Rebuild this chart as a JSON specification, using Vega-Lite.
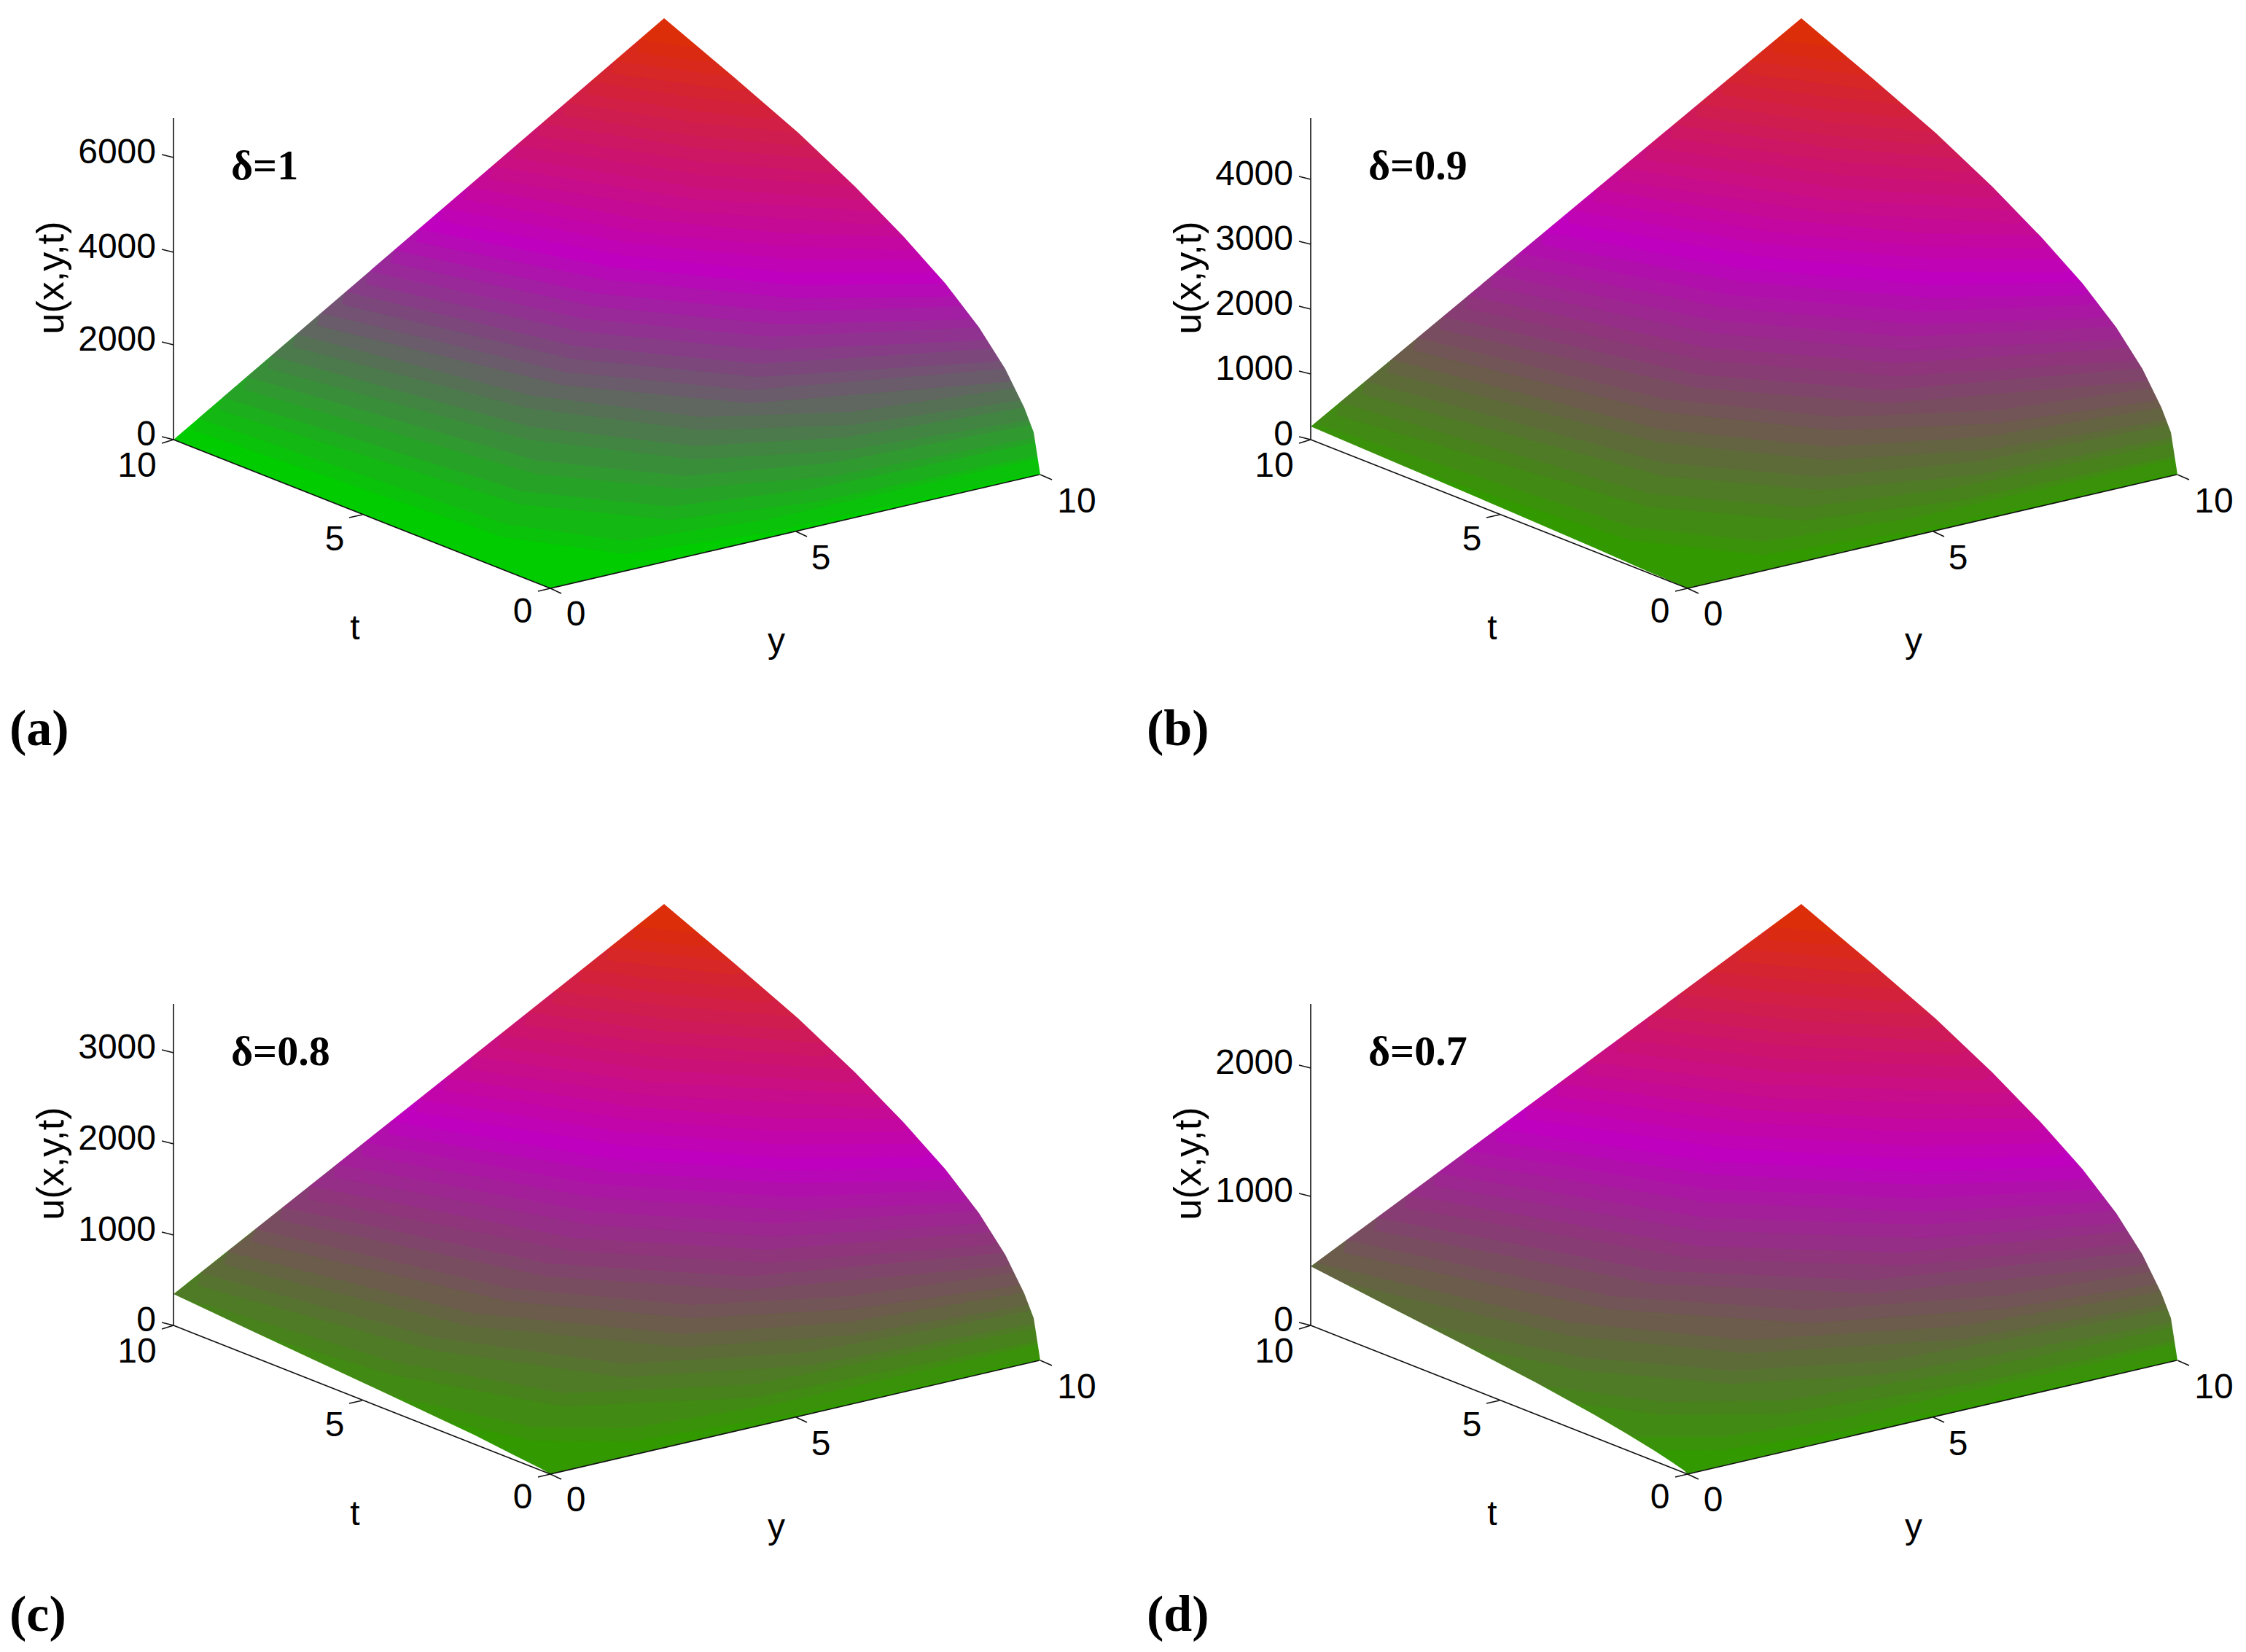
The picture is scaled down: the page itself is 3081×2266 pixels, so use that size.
{
"$schema":"https://vega.github.io/schema/vega-lite/v6.json",
"description":"Surface plots of u(x,y,t) for four values of delta, projected to the page",
"background":"white","padding":0,"bounds":"flush",
"datasets":{
"mask":[{"x":1427,"y":650},{"x":1418,"y":592},{"x":1405,"y":558},{"x":1379,"y":505},{"x":1343,"y":448},{"x":1297,"y":388},{"x":1240,"y":324},{"x":1173,"y":255},{"x":1095,"y":181},{"x":1007,"y":105},{"x":911,"y":24},{"x":911,"y":0},{"x":1545,"y":0},{"x":1545,"y":650}],
"axes":[{"x":238,"y":602,"x2":238,"y2":161},{"x":238,"y":602,"x2":755,"y2":806},{"x":755,"y":806,"x2":1426,"y2":650},{"x":238,"y":602,"x2":222,"y2":607},{"x":497,"y":705,"x2":479,"y2":709},{"x":755,"y":806,"x2":738,"y2":810},{"x":755,"y":806,"x2":770,"y2":813},{"x":1092,"y":728,"x2":1107,"y2":735},{"x":1427,"y":650,"x2":1443,"y2":657}],
"ticktext":[{"x":188,"y":639,"t":"10"},{"x":459,"y":740,"t":"5"},{"x":717,"y":839,"t":"0"},{"x":790,"y":843,"t":"0"},{"x":1126,"y":766,"t":"5"},{"x":1477,"y":688,"t":"10"},{"x":487,"y":862,"t":"t"},{"x":1065,"y":880,"t":"y"}],
"ztitle":[{"x":71,"y":380,"t":"u(x,y,t)"}],
"panels":[
{"p":"a","c":0,"x":238,"y":602},{"p":"a","c":0,"x":755,"y":806},{"p":"a","c":0,"x":1426,"y":650},{"p":"a","c":0,"x":1521,"y":650},{"p":"a","c":0,"x":1521,"y":24},{"p":"a","c":0,"x":911,"y":24},
{"p":"a","c":0.05,"x":272,"y":573},{"p":"a","c":0.05,"x":693,"y":718},{"p":"a","c":0.05,"x":857,"y":741},{"p":"a","c":0.05,"x":1051,"y":712},{"p":"a","c":0.05,"x":1425,"y":628},{"p":"a","c":0.05,"x":1521,"y":24},{"p":"a","c":0.05,"x":911,"y":24},
{"p":"a","c":0.1,"x":305,"y":544},{"p":"a","c":0.1,"x":716,"y":673},{"p":"a","c":0.1,"x":919,"y":694},{"p":"a","c":0.1,"x":1114,"y":670},{"p":"a","c":0.1,"x":1421,"y":606},{"p":"a","c":0.1,"x":1521,"y":24},{"p":"a","c":0.1,"x":911,"y":24},
{"p":"a","c":0.15,"x":339,"y":516},{"p":"a","c":0.15,"x":737,"y":631},{"p":"a","c":0.15,"x":940,"y":652},{"p":"a","c":0.15,"x":1141,"y":634},{"p":"a","c":0.15,"x":1414,"y":582},{"p":"a","c":0.15,"x":1521,"y":24},{"p":"a","c":0.15,"x":911,"y":24},
{"p":"a","c":0.2,"x":372,"y":487},{"p":"a","c":0.2,"x":726,"y":584},{"p":"a","c":0.2,"x":954,"y":611},{"p":"a","c":0.2,"x":1159,"y":599},{"p":"a","c":0.2,"x":1405,"y":558},{"p":"a","c":0.2,"x":1521,"y":24},{"p":"a","c":0.2,"x":911,"y":24},
{"p":"a","c":0.25,"x":406,"y":457},{"p":"a","c":0.25,"x":726,"y":541},{"p":"a","c":0.25,"x":962,"y":571},{"p":"a","c":0.25,"x":1167,"y":564},{"p":"a","c":0.25,"x":1394,"y":531},{"p":"a","c":0.25,"x":1521,"y":24},{"p":"a","c":0.25,"x":911,"y":24},
{"p":"a","c":0.3,"x":439,"y":428},{"p":"a","c":0.3,"x":773,"y":509},{"p":"a","c":0.3,"x":1029,"y":534},{"p":"a","c":0.3,"x":1379,"y":505},{"p":"a","c":0.3,"x":1521,"y":24},{"p":"a","c":0.3,"x":911,"y":24},
{"p":"a","c":0.35,"x":473,"y":399},{"p":"a","c":0.35,"x":786,"y":473},{"p":"a","c":0.35,"x":1041,"y":498},{"p":"a","c":0.35,"x":1363,"y":477},{"p":"a","c":0.35,"x":1521,"y":24},{"p":"a","c":0.35,"x":911,"y":24},
{"p":"a","c":0.4,"x":506,"y":371},{"p":"a","c":0.4,"x":799,"y":436},{"p":"a","c":0.4,"x":1056,"y":461},{"p":"a","c":0.4,"x":1343,"y":448},{"p":"a","c":0.4,"x":1521,"y":24},{"p":"a","c":0.4,"x":911,"y":24},
{"p":"a","c":0.45,"x":540,"y":342},{"p":"a","c":0.45,"x":816,"y":401},{"p":"a","c":0.45,"x":1072,"y":426},{"p":"a","c":0.45,"x":1321,"y":419},{"p":"a","c":0.45,"x":1521,"y":24},{"p":"a","c":0.45,"x":911,"y":24},
{"p":"a","c":0.5,"x":574,"y":313},{"p":"a","c":0.5,"x":835,"y":365},{"p":"a","c":0.5,"x":1090,"y":390},{"p":"a","c":0.5,"x":1297,"y":388},{"p":"a","c":0.5,"x":1521,"y":24},{"p":"a","c":0.5,"x":911,"y":24},
{"p":"a","c":0.55,"x":607,"y":284},{"p":"a","c":0.55,"x":859,"y":332},{"p":"a","c":0.55,"x":1085,"y":355},{"p":"a","c":0.55,"x":1270,"y":356},{"p":"a","c":0.55,"x":1521,"y":24},{"p":"a","c":0.55,"x":911,"y":24},
{"p":"a","c":0.6,"x":641,"y":255},{"p":"a","c":0.6,"x":881,"y":300},{"p":"a","c":0.6,"x":1079,"y":319},{"p":"a","c":0.6,"x":1240,"y":324},{"p":"a","c":0.6,"x":1521,"y":24},{"p":"a","c":0.6,"x":911,"y":24},
{"p":"a","c":0.65,"x":674,"y":227},{"p":"a","c":0.65,"x":951,"y":272},{"p":"a","c":0.65,"x":1208,"y":290},{"p":"a","c":0.65,"x":1521,"y":24},{"p":"a","c":0.65,"x":911,"y":24},
{"p":"a","c":0.7,"x":708,"y":198},{"p":"a","c":0.7,"x":962,"y":239},{"p":"a","c":0.7,"x":1173,"y":255},{"p":"a","c":0.7,"x":1521,"y":24},{"p":"a","c":0.7,"x":911,"y":24},
{"p":"a","c":0.75,"x":741,"y":168},{"p":"a","c":0.75,"x":956,"y":202},{"p":"a","c":0.75,"x":1135,"y":218},{"p":"a","c":0.75,"x":1521,"y":24},{"p":"a","c":0.75,"x":911,"y":24},
{"p":"a","c":0.8,"x":775,"y":139},{"p":"a","c":0.8,"x":951,"y":167},{"p":"a","c":0.8,"x":1095,"y":181},{"p":"a","c":0.8,"x":1521,"y":24},{"p":"a","c":0.8,"x":911,"y":24},
{"p":"a","c":0.85,"x":808,"y":110},{"p":"a","c":0.85,"x":947,"y":132},{"p":"a","c":0.85,"x":1052,"y":144},{"p":"a","c":0.85,"x":1521,"y":24},{"p":"a","c":0.85,"x":911,"y":24},
{"p":"a","c":0.9,"x":842,"y":82},{"p":"a","c":0.9,"x":1007,"y":105},{"p":"a","c":0.9,"x":1521,"y":24},{"p":"a","c":0.9,"x":911,"y":24},
{"p":"a","c":0.95,"x":876,"y":53},{"p":"a","c":0.95,"x":962,"y":65},{"p":"a","c":0.95,"x":1521,"y":24},{"p":"a","c":0.95,"x":911,"y":24},

{"p":"b","c":0,"x":755,"y":806},{"p":"b","c":0,"x":1426,"y":650},{"p":"b","c":0,"x":1521,"y":650},{"p":"b","c":0,"x":1521,"y":24},{"p":"b","c":0,"x":911,"y":24},{"p":"b","c":0,"x":238,"y":584},{"p":"b","c":0,"x":367,"y":639},{"p":"b","c":0,"x":496,"y":694},{"p":"b","c":0,"x":626,"y":750},{"p":"b","c":0,"x":703,"y":784},
{"p":"b","c":0.05,"x":243,"y":580},{"p":"b","c":0.05,"x":679,"y":722},{"p":"b","c":0.05,"x":858,"y":742},{"p":"b","c":0.05,"x":1062,"y":710},{"p":"b","c":0.05,"x":1425,"y":628},{"p":"b","c":0.05,"x":1521,"y":24},{"p":"b","c":0.05,"x":911,"y":24},
{"p":"b","c":0.1,"x":278,"y":551},{"p":"b","c":0.1,"x":702,"y":676},{"p":"b","c":0.1,"x":912,"y":695},{"p":"b","c":0.1,"x":1122,"y":668},{"p":"b","c":0.1,"x":1421,"y":606},{"p":"b","c":0.1,"x":1521,"y":24},{"p":"b","c":0.1,"x":911,"y":24},
{"p":"b","c":0.15,"x":313,"y":522},{"p":"b","c":0.15,"x":723,"y":634},{"p":"b","c":0.15,"x":937,"y":653},{"p":"b","c":0.15,"x":1152,"y":632},{"p":"b","c":0.15,"x":1414,"y":582},{"p":"b","c":0.15,"x":1521,"y":24},{"p":"b","c":0.15,"x":911,"y":24},
{"p":"b","c":0.2,"x":348,"y":492},{"p":"b","c":0.2,"x":718,"y":588},{"p":"b","c":0.2,"x":950,"y":612},{"p":"b","c":0.2,"x":1164,"y":598},{"p":"b","c":0.2,"x":1405,"y":558},{"p":"b","c":0.2,"x":1521,"y":24},{"p":"b","c":0.2,"x":911,"y":24},
{"p":"b","c":0.25,"x":383,"y":462},{"p":"b","c":0.25,"x":721,"y":546},{"p":"b","c":0.25,"x":959,"y":571},{"p":"b","c":0.25,"x":1177,"y":562},{"p":"b","c":0.25,"x":1393,"y":531},{"p":"b","c":0.25,"x":1521,"y":24},{"p":"b","c":0.25,"x":911,"y":24},
{"p":"b","c":0.3,"x":418,"y":433},{"p":"b","c":0.3,"x":770,"y":513},{"p":"b","c":0.3,"x":1029,"y":534},{"p":"b","c":0.3,"x":1378,"y":504},{"p":"b","c":0.3,"x":1521,"y":24},{"p":"b","c":0.3,"x":911,"y":24},
{"p":"b","c":0.35,"x":453,"y":404},{"p":"b","c":0.35,"x":778,"y":475},{"p":"b","c":0.35,"x":1042,"y":497},{"p":"b","c":0.35,"x":1361,"y":476},{"p":"b","c":0.35,"x":1521,"y":24},{"p":"b","c":0.35,"x":911,"y":24},
{"p":"b","c":0.4,"x":488,"y":375},{"p":"b","c":0.4,"x":790,"y":438},{"p":"b","c":0.4,"x":1054,"y":461},{"p":"b","c":0.4,"x":1341,"y":447},{"p":"b","c":0.4,"x":1521,"y":24},{"p":"b","c":0.4,"x":911,"y":24},
{"p":"b","c":0.45,"x":523,"y":346},{"p":"b","c":0.45,"x":809,"y":403},{"p":"b","c":0.45,"x":1074,"y":426},{"p":"b","c":0.45,"x":1317,"y":417},{"p":"b","c":0.45,"x":1521,"y":24},{"p":"b","c":0.45,"x":911,"y":24},
{"p":"b","c":0.5,"x":558,"y":317},{"p":"b","c":0.5,"x":828,"y":367},{"p":"b","c":0.5,"x":1092,"y":390},{"p":"b","c":0.5,"x":1293,"y":386},{"p":"b","c":0.5,"x":1521,"y":24},{"p":"b","c":0.5,"x":911,"y":24},
{"p":"b","c":0.55,"x":594,"y":287},{"p":"b","c":0.55,"x":855,"y":333},{"p":"b","c":0.55,"x":1088,"y":354},{"p":"b","c":0.55,"x":1266,"y":355},{"p":"b","c":0.55,"x":1521,"y":24},{"p":"b","c":0.55,"x":911,"y":24},
{"p":"b","c":0.6,"x":629,"y":258},{"p":"b","c":0.6,"x":878,"y":300},{"p":"b","c":0.6,"x":1080,"y":319},{"p":"b","c":0.6,"x":1235,"y":322},{"p":"b","c":0.6,"x":1521,"y":24},{"p":"b","c":0.6,"x":911,"y":24},
{"p":"b","c":0.65,"x":663,"y":229},{"p":"b","c":0.65,"x":949,"y":273},{"p":"b","c":0.65,"x":1204,"y":288},{"p":"b","c":0.65,"x":1521,"y":24},{"p":"b","c":0.65,"x":911,"y":24},
{"p":"b","c":0.7,"x":699,"y":200},{"p":"b","c":0.7,"x":963,"y":239},{"p":"b","c":0.7,"x":1167,"y":253},{"p":"b","c":0.7,"x":1521,"y":24},{"p":"b","c":0.7,"x":911,"y":24},
{"p":"b","c":0.75,"x":734,"y":170},{"p":"b","c":0.75,"x":956,"y":202},{"p":"b","c":0.75,"x":1131,"y":217},{"p":"b","c":0.75,"x":1521,"y":24},{"p":"b","c":0.75,"x":911,"y":24},
{"p":"b","c":0.8,"x":769,"y":141},{"p":"b","c":0.8,"x":951,"y":167},{"p":"b","c":0.8,"x":1093,"y":180},{"p":"b","c":0.8,"x":1521,"y":24},{"p":"b","c":0.8,"x":911,"y":24},
{"p":"b","c":0.85,"x":804,"y":111},{"p":"b","c":0.85,"x":947,"y":132},{"p":"b","c":0.85,"x":1049,"y":142},{"p":"b","c":0.85,"x":1521,"y":24},{"p":"b","c":0.85,"x":911,"y":24},
{"p":"b","c":0.9,"x":839,"y":82},{"p":"b","c":0.9,"x":1005,"y":104},{"p":"b","c":0.9,"x":1521,"y":24},{"p":"b","c":0.9,"x":911,"y":24},
{"p":"b","c":0.95,"x":874,"y":53},{"p":"b","c":0.95,"x":958,"y":64},{"p":"b","c":0.95,"x":1521,"y":24},{"p":"b","c":0.95,"x":911,"y":24},

{"p":"c","c":0,"x":755,"y":806},{"p":"c","c":0,"x":1426,"y":650},{"p":"c","c":0,"x":1521,"y":650},{"p":"c","c":0,"x":1521,"y":24},{"p":"c","c":0,"x":911,"y":24},{"p":"c","c":0,"x":238,"y":559},{"p":"c","c":0,"x":342,"y":608},{"p":"c","c":0,"x":445,"y":656},{"p":"c","c":0,"x":548,"y":704},{"p":"c","c":0,"x":652,"y":753},{"p":"c","c":0,"x":703,"y":779},{"p":"c","c":0,"x":739,"y":797},
{"p":"c","c":0.05,"x":538,"y":699},{"p":"c","c":0.05,"x":731,"y":742},{"p":"c","c":0.05,"x":866,"y":743},{"p":"c","c":0.05,"x":1069,"y":709},{"p":"c","c":0.05,"x":1424,"y":628},{"p":"c","c":0.05,"x":1521,"y":24},{"p":"c","c":0.05,"x":911,"y":24},{"p":"c","c":0.05,"x":238,"y":559},{"p":"c","c":0.05,"x":342,"y":608},{"p":"c","c":0.05,"x":445,"y":656},
{"p":"c","c":0.1,"x":238,"y":560},{"p":"c","c":0.1,"x":541,"y":652},{"p":"c","c":0.1,"x":773,"y":695},{"p":"c","c":0.1,"x":1033,"y":683},{"p":"c","c":0.1,"x":1420,"y":606},{"p":"c","c":0.1,"x":1521,"y":24},{"p":"c","c":0.1,"x":911,"y":24},
{"p":"c","c":0.15,"x":276,"y":530},{"p":"c","c":0.15,"x":594,"y":618},{"p":"c","c":0.15,"x":856,"y":655},{"p":"c","c":0.15,"x":1108,"y":639},{"p":"c","c":0.15,"x":1413,"y":582},{"p":"c","c":0.15,"x":1521,"y":24},{"p":"c","c":0.15,"x":911,"y":24},
{"p":"c","c":0.2,"x":312,"y":501},{"p":"c","c":0.2,"x":646,"y":585},{"p":"c","c":0.2,"x":939,"y":614},{"p":"c","c":0.2,"x":1168,"y":597},{"p":"c","c":0.2,"x":1403,"y":557},{"p":"c","c":0.2,"x":1521,"y":24},{"p":"c","c":0.2,"x":911,"y":24},
{"p":"c","c":0.25,"x":350,"y":470},{"p":"c","c":0.25,"x":699,"y":551},{"p":"c","c":0.25,"x":949,"y":574},{"p":"c","c":0.25,"x":1164,"y":562},{"p":"c","c":0.25,"x":1390,"y":530},{"p":"c","c":0.25,"x":1521,"y":24},{"p":"c","c":0.25,"x":911,"y":24},
{"p":"c","c":0.3,"x":387,"y":440},{"p":"c","c":0.3,"x":752,"y":517},{"p":"c","c":0.3,"x":1024,"y":535},{"p":"c","c":0.3,"x":1374,"y":503},{"p":"c","c":0.3,"x":1521,"y":24},{"p":"c","c":0.3,"x":911,"y":24},
{"p":"c","c":0.35,"x":425,"y":411},{"p":"c","c":0.35,"x":787,"y":482},{"p":"c","c":0.35,"x":1053,"y":498},{"p":"c","c":0.35,"x":1356,"y":474},{"p":"c","c":0.35,"x":1521,"y":24},{"p":"c","c":0.35,"x":911,"y":24},
{"p":"c","c":0.4,"x":461,"y":381},{"p":"c","c":0.4,"x":811,"y":446},{"p":"c","c":0.4,"x":1064,"y":462},{"p":"c","c":0.4,"x":1336,"y":445},{"p":"c","c":0.4,"x":1521,"y":24},{"p":"c","c":0.4,"x":911,"y":24},
{"p":"c","c":0.45,"x":499,"y":351},{"p":"c","c":0.45,"x":814,"y":408},{"p":"c","c":0.45,"x":1087,"y":426},{"p":"c","c":0.45,"x":1313,"y":416},{"p":"c","c":0.45,"x":1521,"y":24},{"p":"c","c":0.45,"x":911,"y":24},
{"p":"c","c":0.5,"x":536,"y":322},{"p":"c","c":0.5,"x":843,"y":374},{"p":"c","c":0.5,"x":1081,"y":389},{"p":"c","c":0.5,"x":1289,"y":385},{"p":"c","c":0.5,"x":1521,"y":24},{"p":"c","c":0.5,"x":911,"y":24},
{"p":"c","c":0.55,"x":574,"y":292},{"p":"c","c":0.55,"x":853,"y":337},{"p":"c","c":0.55,"x":1074,"y":354},{"p":"c","c":0.55,"x":1261,"y":353},{"p":"c","c":0.55,"x":1521,"y":24},{"p":"c","c":0.55,"x":911,"y":24},
{"p":"c","c":0.6,"x":611,"y":262},{"p":"c","c":0.6,"x":861,"y":301},{"p":"c","c":0.6,"x":1068,"y":318},{"p":"c","c":0.6,"x":1230,"y":319},{"p":"c","c":0.6,"x":1521,"y":24},{"p":"c","c":0.6,"x":911,"y":24},
{"p":"c","c":0.65,"x":648,"y":233},{"p":"c","c":0.65,"x":886,"y":268},{"p":"c","c":0.65,"x":1199,"y":286},{"p":"c","c":0.65,"x":1521,"y":24},{"p":"c","c":0.65,"x":911,"y":24},
{"p":"c","c":0.7,"x":686,"y":203},{"p":"c","c":0.7,"x":892,"y":233},{"p":"c","c":0.7,"x":1162,"y":251},{"p":"c","c":0.7,"x":1521,"y":24},{"p":"c","c":0.7,"x":911,"y":24},
{"p":"c","c":0.75,"x":722,"y":172},{"p":"c","c":0.75,"x":896,"y":197},{"p":"c","c":0.75,"x":1126,"y":215},{"p":"c","c":0.75,"x":1521,"y":24},{"p":"c","c":0.75,"x":911,"y":24},
{"p":"c","c":0.8,"x":760,"y":143},{"p":"c","c":0.8,"x":919,"y":164},{"p":"c","c":0.8,"x":1087,"y":178},{"p":"c","c":0.8,"x":1521,"y":24},{"p":"c","c":0.8,"x":911,"y":24},
{"p":"c","c":0.85,"x":797,"y":113},{"p":"c","c":0.85,"x":913,"y":129},{"p":"c","c":0.85,"x":1046,"y":141},{"p":"c","c":0.85,"x":1521,"y":24},{"p":"c","c":0.85,"x":911,"y":24},
{"p":"c","c":0.9,"x":835,"y":83},{"p":"c","c":0.9,"x":1002,"y":103},{"p":"c","c":0.9,"x":1521,"y":24},{"p":"c","c":0.9,"x":911,"y":24},
{"p":"c","c":0.95,"x":871,"y":54},{"p":"c","c":0.95,"x":958,"y":64},{"p":"c","c":0.95,"x":1521,"y":24},{"p":"c","c":0.95,"x":911,"y":24},

{"p":"d","c":0,"x":755,"y":806},{"p":"d","c":0,"x":1426,"y":650},{"p":"d","c":0,"x":1521,"y":650},{"p":"d","c":0,"x":1521,"y":24},{"p":"d","c":0,"x":911,"y":24},{"p":"d","c":0,"x":238,"y":521},{"p":"d","c":0,"x":341,"y":574},{"p":"d","c":0,"x":445,"y":627},{"p":"d","c":0,"x":548,"y":681},{"p":"d","c":0,"x":626,"y":724},{"p":"d","c":0,"x":672,"y":751},{"p":"d","c":0,"x":708,"y":773},{"p":"d","c":0,"x":734,"y":790},{"p":"d","c":0,"x":750,"y":801},
{"p":"d","c":0.05,"x":680,"y":755},{"p":"d","c":0.05,"x":802,"y":755},{"p":"d","c":0.05,"x":966,"y":730},{"p":"d","c":0.05,"x":1282,"y":661},{"p":"d","c":0.05,"x":1424,"y":628},{"p":"d","c":0.05,"x":1521,"y":24},{"p":"d","c":0.05,"x":911,"y":24},{"p":"d","c":0.05,"x":238,"y":521},{"p":"d","c":0.05,"x":341,"y":574},{"p":"d","c":0.05,"x":445,"y":627},{"p":"d","c":0.05,"x":548,"y":681},{"p":"d","c":0.05,"x":626,"y":724},
{"p":"d","c":0.1,"x":553,"y":684},{"p":"d","c":0.1,"x":722,"y":707},{"p":"d","c":0.1,"x":886,"y":705},{"p":"d","c":0.1,"x":1142,"y":664},{"p":"d","c":0.1,"x":1420,"y":605},{"p":"d","c":0.1,"x":1521,"y":24},{"p":"d","c":0.1,"x":911,"y":24},{"p":"d","c":0.1,"x":238,"y":521},{"p":"d","c":0.1,"x":341,"y":574},{"p":"d","c":0.1,"x":445,"y":627},
{"p":"d","c":0.15,"x":393,"y":600},{"p":"d","c":0.15,"x":612,"y":646},{"p":"d","c":0.15,"x":816,"y":664},{"p":"d","c":0.15,"x":1025,"y":651},{"p":"d","c":0.15,"x":1412,"y":581},{"p":"d","c":0.15,"x":1521,"y":24},{"p":"d","c":0.15,"x":911,"y":24},{"p":"d","c":0.15,"x":238,"y":521},{"p":"d","c":0.15,"x":341,"y":574},
{"p":"d","c":0.2,"x":245,"y":516},{"p":"d","c":0.2,"x":593,"y":598},{"p":"d","c":0.2,"x":837,"y":622},{"p":"d","c":0.2,"x":1129,"y":603},{"p":"d","c":0.2,"x":1401,"y":556},{"p":"d","c":0.2,"x":1521,"y":24},{"p":"d","c":0.2,"x":911,"y":24},
{"p":"d","c":0.25,"x":286,"y":485},{"p":"d","c":0.25,"x":651,"y":562},{"p":"d","c":0.25,"x":920,"y":581},{"p":"d","c":0.25,"x":1187,"y":561},{"p":"d","c":0.25,"x":1388,"y":529},{"p":"d","c":0.25,"x":1521,"y":24},{"p":"d","c":0.25,"x":911,"y":24},
{"p":"d","c":0.3,"x":328,"y":454},{"p":"d","c":0.3,"x":710,"y":527},{"p":"d","c":0.3,"x":1003,"y":540},{"p":"d","c":0.3,"x":1372,"y":502},{"p":"d","c":0.3,"x":1521,"y":24},{"p":"d","c":0.3,"x":911,"y":24},
{"p":"d","c":0.35,"x":370,"y":423},{"p":"d","c":0.35,"x":768,"y":493},{"p":"d","c":0.35,"x":1051,"y":502},{"p":"d","c":0.35,"x":1354,"y":473},{"p":"d","c":0.35,"x":1521,"y":24},{"p":"d","c":0.35,"x":911,"y":24},
{"p":"d","c":0.4,"x":410,"y":393},{"p":"d","c":0.4,"x":778,"y":454},{"p":"d","c":0.4,"x":1080,"y":464},{"p":"d","c":0.4,"x":1335,"y":445},{"p":"d","c":0.4,"x":1521,"y":24},{"p":"d","c":0.4,"x":911,"y":24},
{"p":"d","c":0.45,"x":452,"y":362},{"p":"d","c":0.45,"x":784,"y":415},{"p":"d","c":0.45,"x":1077,"y":428},{"p":"d","c":0.45,"x":1312,"y":415},{"p":"d","c":0.45,"x":1521,"y":24},{"p":"d","c":0.45,"x":911,"y":24},
{"p":"d","c":0.5,"x":494,"y":332},{"p":"d","c":0.5,"x":787,"y":377},{"p":"d","c":0.5,"x":1072,"y":391},{"p":"d","c":0.5,"x":1286,"y":384},{"p":"d","c":0.5,"x":1521,"y":24},{"p":"d","c":0.5,"x":911,"y":24},
{"p":"d","c":0.55,"x":535,"y":301},{"p":"d","c":0.55,"x":809,"y":341},{"p":"d","c":0.55,"x":1066,"y":356},{"p":"d","c":0.55,"x":1258,"y":352},{"p":"d","c":0.55,"x":1521,"y":24},{"p":"d","c":0.55,"x":911,"y":24},
{"p":"d","c":0.6,"x":577,"y":270},{"p":"d","c":0.6,"x":840,"y":306},{"p":"d","c":0.6,"x":1062,"y":319},{"p":"d","c":0.6,"x":1227,"y":318},{"p":"d","c":0.6,"x":1521,"y":24},{"p":"d","c":0.6,"x":911,"y":24},
{"p":"d","c":0.65,"x":618,"y":240},{"p":"d","c":0.65,"x":869,"y":272},{"p":"d","c":0.65,"x":1193,"y":284},{"p":"d","c":0.65,"x":1521,"y":24},{"p":"d","c":0.65,"x":911,"y":24},
{"p":"d","c":0.7,"x":660,"y":209},{"p":"d","c":0.7,"x":888,"y":237},{"p":"d","c":0.7,"x":1154,"y":248},{"p":"d","c":0.7,"x":1521,"y":24},{"p":"d","c":0.7,"x":911,"y":24},
{"p":"d","c":0.75,"x":702,"y":177},{"p":"d","c":0.75,"x":885,"y":200},{"p":"d","c":0.75,"x":1121,"y":213},{"p":"d","c":0.75,"x":1521,"y":24},{"p":"d","c":0.75,"x":911,"y":24},
{"p":"d","c":0.8,"x":743,"y":147},{"p":"d","c":0.8,"x":911,"y":166},{"p":"d","c":0.8,"x":1082,"y":176},{"p":"d","c":0.8,"x":1521,"y":24},{"p":"d","c":0.8,"x":911,"y":24},
{"p":"d","c":0.85,"x":784,"y":116},{"p":"d","c":0.85,"x":917,"y":131},{"p":"d","c":0.85,"x":1043,"y":140},{"p":"d","c":0.85,"x":1521,"y":24},{"p":"d","c":0.85,"x":911,"y":24},
{"p":"d","c":0.9,"x":826,"y":85},{"p":"d","c":0.9,"x":997,"y":101},{"p":"d","c":0.9,"x":1521,"y":24},{"p":"d","c":0.9,"x":911,"y":24},
{"p":"d","c":0.95,"x":867,"y":55},{"p":"d","c":0.95,"x":953,"y":62},{"p":"d","c":0.95,"x":1521,"y":24},{"p":"d","c":0.95,"x":911,"y":24},

{"p":"a","m":1,"x":911,"y":24},{"p":"a","m":1,"x":911,"y":0},{"p":"a","m":1,"x":180,"y":0},{"p":"a","m":1,"x":180,"y":950},{"p":"a","m":1,"x":1545,"y":950},{"p":"a","m":1,"x":1545,"y":650},{"p":"a","m":1,"x":1426,"y":650},{"p":"a","m":1,"x":755,"y":806},{"p":"a","m":1,"x":238,"y":602},
{"p":"b","m":1,"x":911,"y":24},{"p":"b","m":1,"x":911,"y":0},{"p":"b","m":1,"x":180,"y":0},{"p":"b","m":1,"x":180,"y":950},{"p":"b","m":1,"x":1545,"y":950},{"p":"b","m":1,"x":1545,"y":650},{"p":"b","m":1,"x":1426,"y":650},{"p":"b","m":1,"x":755,"y":806},{"p":"b","m":1,"x":703,"y":784},{"p":"b","m":1,"x":626,"y":750},{"p":"b","m":1,"x":496,"y":694},{"p":"b","m":1,"x":367,"y":639},{"p":"b","m":1,"x":238,"y":584},
{"p":"c","m":1,"x":911,"y":24},{"p":"c","m":1,"x":911,"y":0},{"p":"c","m":1,"x":180,"y":0},{"p":"c","m":1,"x":180,"y":950},{"p":"c","m":1,"x":1545,"y":950},{"p":"c","m":1,"x":1545,"y":650},{"p":"c","m":1,"x":1426,"y":650},{"p":"c","m":1,"x":755,"y":806},{"p":"c","m":1,"x":739,"y":797},{"p":"c","m":1,"x":703,"y":779},{"p":"c","m":1,"x":652,"y":753},{"p":"c","m":1,"x":548,"y":704},{"p":"c","m":1,"x":445,"y":656},{"p":"c","m":1,"x":342,"y":608},{"p":"c","m":1,"x":238,"y":559},
{"p":"d","m":1,"x":911,"y":24},{"p":"d","m":1,"x":911,"y":0},{"p":"d","m":1,"x":180,"y":0},{"p":"d","m":1,"x":180,"y":950},{"p":"d","m":1,"x":1545,"y":950},{"p":"d","m":1,"x":1545,"y":650},{"p":"d","m":1,"x":1426,"y":650},{"p":"d","m":1,"x":755,"y":806},{"p":"d","m":1,"x":750,"y":801},{"p":"d","m":1,"x":734,"y":790},{"p":"d","m":1,"x":708,"y":773},{"p":"d","m":1,"x":672,"y":751},{"p":"d","m":1,"x":626,"y":724},{"p":"d","m":1,"x":548,"y":681},{"p":"d","m":1,"x":445,"y":627},{"p":"d","m":1,"x":341,"y":574},{"p":"d","m":1,"x":238,"y":521},

{"p":"a","x":238,"y":472,"x2":222,"y2":468,"z":"2000"},{"p":"a","x":238,"y":345,"x2":222,"y2":341,"z":"4000"},{"p":"a","x":238,"y":215,"x2":222,"y2":211,"z":"6000"},{"p":"a","x":238,"y":602,"x2":222,"y2":598,"z":"0"},
{"p":"b","x":238,"y":602,"x2":222,"y2":598,"z":"0"},{"p":"b","x":238,"y":512,"x2":222,"y2":508,"z":"1000"},{"p":"b","x":238,"y":423,"x2":222,"y2":419,"z":"2000"},{"p":"b","x":238,"y":334,"x2":222,"y2":330,"z":"3000"},{"p":"b","x":238,"y":245,"x2":222,"y2":241,"z":"4000"},
{"p":"c","x":238,"y":602,"x2":222,"y2":598,"z":"0"},{"p":"c","x":238,"y":478,"x2":222,"y2":474,"z":"1000"},{"p":"c","x":238,"y":353,"x2":222,"y2":349,"z":"2000"},{"p":"c","x":238,"y":228,"x2":222,"y2":224,"z":"3000"},
{"p":"d","x":238,"y":602,"x2":222,"y2":598,"z":"0"},{"p":"d","x":238,"y":425,"x2":222,"y2":421,"z":"1000"},{"p":"d","x":238,"y":249,"x2":222,"y2":245,"z":"2000"},
{"p":"a","x":317,"y":228,"note":"δ=1"},{"p":"b","x":317,"y":228,"note":"δ=0.9"},{"p":"c","x":317,"y":228,"note":"δ=0.8"},{"p":"d","x":317,"y":228,"note":"δ=0.7"},
{"p":"a","x":13,"y":1000,"tag":"(a)"},{"p":"b","x":13,"y":1000,"tag":"(b)"},{"p":"c","x":13,"y":1000,"tag":"(c)"},{"p":"d","x":13,"y":1000,"tag":"(d)"}
]},
"data":{"name":"panels"},
"facet":{"field":"p","type":"nominal","header":{"title":null,"labelExpr":"''","labelColor":"white","labelFontSize":1,"labelPadding":0}},
"columns":2,
"spacing":{"column":39,"row":188},
"spec":{
"width":1521,"height":1027,
"view":{"stroke":null},
"resolve":{"scale":{"fill":"independent","stroke":"independent"}},
"encoding":{
"x":{"field":"x","type":"quantitative","scale":{"domain":[0,1521]},"axis":null},
"y":{"field":"y","type":"quantitative","scale":{"domain":[1051,24]},"axis":null}
},
"layer":[
{"transform":[{"filter":"datum.p=='a' && isValid(datum.c)"}],
"mark":{"type":"line","order":false,"strokeWidth":36,"strokeOpacity":0.5,"strokeJoin":"round"},
"encoding":{"detail":{"field":"c"},
"fill":{"field":"c","type":"quantitative","legend":null,"scale":{"domain":[0,0.5,0.97],"range":["#00cc00","#bf00bf","#dd3000"],"interpolate":"rgb","clamp":true}},
"stroke":{"field":"c","type":"quantitative","legend":null,"scale":{"domain":[0,0.5,0.97],"range":["#00cc00","#bf00bf","#dd3000"],"interpolate":"rgb","clamp":true}}}},
{"transform":[{"filter":"datum.p!='a' && isValid(datum.c)"}],
"mark":{"type":"line","order":false,"strokeWidth":36,"strokeOpacity":0.5,"strokeJoin":"round"},
"encoding":{"detail":{"field":"c"},
"fill":{"field":"c","type":"quantitative","legend":null,"scale":{"domain":[0,0.5,0.97],"range":["#339900","#bf00bf","#dd3000"],"interpolate":"rgb","clamp":true}},
"stroke":{"field":"c","type":"quantitative","legend":null,"scale":{"domain":[0,0.5,0.97],"range":["#339900","#bf00bf","#dd3000"],"interpolate":"rgb","clamp":true}}}},
{"data":{"name":"mask"},"mark":{"type":"line","order":false,"stroke":null,"strokeWidth":0,"fill":"white"},"encoding":{}},
{"transform":[{"filter":"isValid(datum.m)"}],"mark":{"type":"line","order":false,"stroke":null,"strokeWidth":0,"fill":"white"},"encoding":{}},
{"data":{"name":"axes"},"mark":{"type":"rule","color":"#111111","strokeWidth":1.6},"encoding":{"x2":{"field":"x2"},"y2":{"field":"y2"}}},
{"transform":[{"filter":"isValid(datum.z)"}],"mark":{"type":"rule","color":"#111111","strokeWidth":1.6},"encoding":{"x2":{"field":"x2"},"y2":{"field":"y2"}}},
{"transform":[{"filter":"isValid(datum.z)"}],"mark":{"type":"text","font":"Liberation Sans","fontSize":48,"align":"right","baseline":"middle","dx":-8,"dy":-2},"encoding":{"x":{"field":"x2","type":"quantitative"},"y":{"field":"y2","type":"quantitative"},"text":{"field":"z"}}},
{"data":{"name":"ticktext"},"mark":{"type":"text","font":"Liberation Sans","fontSize":48,"align":"center","baseline":"middle"},"encoding":{"text":{"field":"t"}}},
{"data":{"name":"ztitle"},"mark":{"type":"text","font":"Liberation Sans","fontSize":52,"align":"center","baseline":"middle","angle":270},"encoding":{"text":{"field":"t"}}},
{"transform":[{"filter":"isValid(datum.note)"}],"mark":{"type":"text","font":"Liberation Serif","fontWeight":"bold","fontSize":58,"align":"left","baseline":"middle"},"encoding":{"text":{"field":"note"}}},
{"transform":[{"filter":"isValid(datum.tag)"}],"mark":{"type":"text","font":"Liberation Serif","fontWeight":"bold","fontSize":70,"align":"left","baseline":"middle"},"encoding":{"text":{"field":"tag"}}}
]}
}
